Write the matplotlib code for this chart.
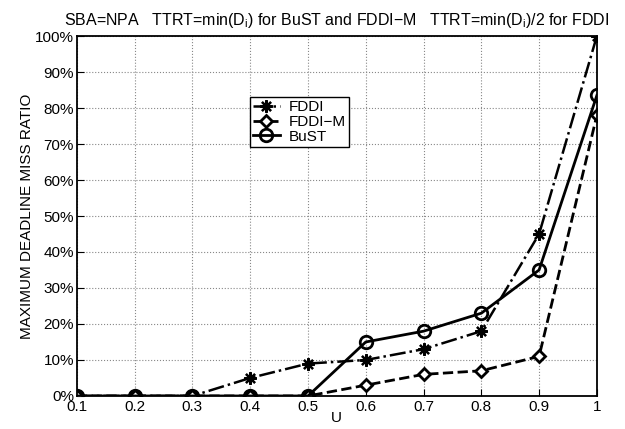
import numpy as np
import matplotlib
matplotlib.use('Agg')
import matplotlib.pyplot as plt
from matplotlib.ticker import FuncFormatter

u = [0.1, 0.2, 0.3, 0.4, 0.5, 0.6, 0.7, 0.8, 0.9, 1.0]
fddi = [0, 0, 0, 5, 9, 10, 13, 18, 45, 100]
fddi_m = [0, 0, 0, 0, 0, 3, 6, 7, 11, 78]
bust = [0, 0, 0, 0, 0, 15, 18, 23, 35, 83.5]

plt.rcParams['font.family'] = ['Liberation Sans', 'DejaVu Sans']

fig = plt.figure(figsize=(6.25, 4.29), dpi=100)
ax = fig.add_axes([0.123, 0.077, 0.832, 0.839])

ax.plot(u, fddi, 'k-.', lw=1.8, marker=(8, 2, 0), ms=9, mew=1.6, label='FDDI')
ax.plot(u, fddi_m, 'k--', lw=2.0, marker='D', ms=6.5, mfc='white', mew=2.0, label='FDDI\u2212M')
ax.plot(u, bust, 'k-', lw=2.0, marker='o', ms=9, mfc='none', mew=2.0, label='BuST')

ax.set_xlim(0.1, 1.0)
ax.set_ylim(0, 100)
ax.set_xticks(u)
ax.set_xticklabels(['0.1', '0.2', '0.3', '0.4', '0.5', '0.6', '0.7', '0.8', '0.9', '1'])
ax.set_yticks(np.arange(0, 101, 10))
ax.yaxis.set_major_formatter(FuncFormatter(lambda v, p: '%d%%' % v))
ax.tick_params(direction='in', length=5, labelsize=11, pad=2)
ax.tick_params(axis='x', pad=3)
ax.grid(True, linestyle=':', color='#888888', lw=0.8)
for s in ax.spines.values():
    s.set_linewidth(1.3)

ax.set_xlabel('U', fontsize=11, labelpad=-2)
ax.set_ylabel('MAXIMUM DEADLINE MISS RATIO', fontsize=11, labelpad=1)
ax.set_title('SBA=NPA   TTRT=min(D$_{\\mathregular{i}}$) for BuST and FDDI\u2212M   TTRT=min(D$_{\\mathregular{i}}$)/2 for FDDI',
             fontsize=11.5, pad=8)

leg = ax.legend(loc='upper left', bbox_to_anchor=(0.332, 0.83), fontsize=11,
                frameon=True, fancybox=False, edgecolor='black', framealpha=1,
                handlelength=1.8, borderpad=0.2, labelspacing=0.05, handletextpad=0.6,
                borderaxespad=0)
leg.get_frame().set_linewidth(1.0)

fig.savefig('out.png', dpi=100)
